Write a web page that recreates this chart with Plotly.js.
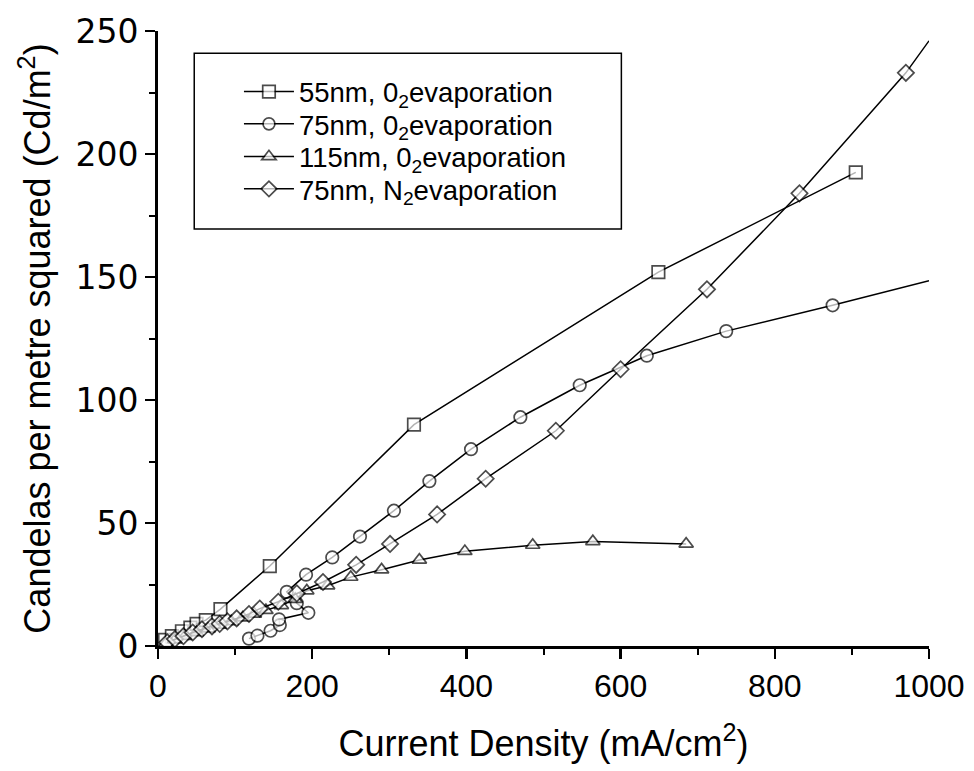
<!DOCTYPE html>
<html>
<head>
<meta charset="utf-8">
<script src="https://cdn.plot.ly/plotly-3.0.1.min.js"></script>
<style>html,body{margin:0;padding:0;background:#fff;}#chart{width:974px;height:771px;}</style>
</head>
<body>
<div id="chart"></div>
<script>
// Series names
const seriesNames = [
  "55nm, 0<sub>2</sub>evaporation",
  "75nm, 0<sub>2</sub>evaporation",
  "115nm, 0<sub>2</sub>evaporation",
  "75nm, N<sub>2</sub>evaporation"
];

// 55nm, O2 evaporation (squares)
const sqX = [9, 18, 31, 42, 50, 62, 81, 145, 332, 649, 905];
const sqY = [2.5, 4, 6, 7.5, 9, 10.5, 15, 32.5, 90, 152, 192.5];

// 75nm, O2 evaporation (circles)
const ciX = [118, 129, 146, 158, 157, 195, 180, 167, 192, 226, 262, 306, 352, 406, 470, 547, 634, 737, 875, 1000];
const ciY = [3, 4.2, 6.2, 8.5, 10.8, 13.5, 17.4, 22, 29, 36, 44.5, 55, 67, 80, 93, 106, 118, 128, 138.5, 148.5];

// 115nm, O2 evaporation (triangles)
const trX = [10, 22, 35, 50, 65, 80, 95, 110, 125, 140, 160, 178, 193, 220, 250, 290, 339, 398, 486, 564, 685];
const trY = [1, 2.5, 4, 5.5, 7, 8.5, 10, 11.5, 13, 14.5, 16.5, 19, 22.5, 24.5, 28, 31, 35, 38.5, 41, 42.5, 41.5];

// 75nm, N2 evaporation (diamonds)
const diX = [12, 22, 33, 45, 57, 70, 80, 90, 102, 118, 132, 156, 180, 214, 257, 301, 362, 425, 516, 600, 712, 832, 970, 1000];
const diY = [1.5, 2.8, 4, 5.5, 6.8, 8, 9, 10, 11.2, 13, 15.2, 18, 21.4, 26, 33, 41.5, 53.5, 68, 87.5, 112.5, 145, 184, 233, 246];

// Axis ticks
const xTicks = [0, 200, 400, 600, 800, 1000];
const yTicks = [0, 50, 100, 150, 200, 250];

function sizes(n, lastHidden) {
  const s = [];
  for (let i = 0; i < n; i++) s.push(lastHidden && i === n - 1 ? 0 : 12.5);
  return s;
}

const lineStyle = {color: "#000", width: 1.5};
function mk(sym, n, lastHidden) {
  return {symbol: sym, size: sizes(n, lastHidden), color: "#fff", line: {color: "#000", width: 1.7}};
}

const legendNames = ["legend", "legend2", "legend3", "legend4"];
const symbols = ["square", "circle", "triangle-up", "diamond"];
const xs = [sqX, ciX, trX, diX];
const ys = [sqY, ciY, trY, diY];
const hideLast = [false, true, false, true];

const traces = xs.map((x, i) => ({
  x: x, y: ys[i], name: seriesNames[i], mode: "lines+markers",
  line: lineStyle, marker: mk(symbols[i], x.length, hideLast[i]),
  legend: legendNames[i]
}));

const legendFont = {family: "Liberation Sans, Arial, sans-serif", size: 27.5, color: "#000"};
const legendRowY = [0.9013, 0.8488, 0.7956, 0.7431];
function legendDef(yy) {
  return {x: 0.105, y: yy, xanchor: "left", yanchor: "middle", bgcolor: "rgba(0,0,0,0)",
          borderwidth: 0, font: legendFont, itemwidth: 50};
}

const titleFont = {family: "Liberation Sans, Arial, sans-serif", size: 36, color: "#000"};

const layout = {
  width: 974, height: 771,
  margin: {l: 158, r: 45, t: 31, b: 125},
  paper_bgcolor: "#fff", plot_bgcolor: "#fff",
  showlegend: true,
  legend: legendDef(legendRowY[0]),
  legend2: legendDef(legendRowY[1]),
  legend3: legendDef(legendRowY[2]),
  legend4: legendDef(legendRowY[3]),
  xaxis: {
    range: [0, 1000], tickvals: xTicks, ticktext: xTicks.map(String),
    showgrid: false, zeroline: false, showline: true, linecolor: "#000", linewidth: 3,
    ticks: "outside", ticklen: 10, tickwidth: 2.5, tickcolor: "#000",
    minor: {dtick: 100, ticks: "outside", ticklen: 6, tickwidth: 2, tickcolor: "#000"},
    tickfont: {family: "Liberation Sans, Arial, sans-serif", size: 32, color: "#000"},
    title: {text: "Current Density (mA/cm<sup>2</sup>)", font: titleFont, standoff: 28},
    fixedrange: true
  },
  yaxis: {
    range: [0, 250], tickvals: yTicks, ticktext: yTicks.map(String),
    showgrid: false, zeroline: false, showline: true, linecolor: "#000", linewidth: 3,
    ticks: "outside", ticklen: 10, tickwidth: 2.5, tickcolor: "#000",
    minor: {dtick: 25, ticks: "outside", ticklen: 6, tickwidth: 2, tickcolor: "#000"},
    tickfont: {family: "DejaVu Sans, sans-serif", size: 33, color: "#000"},
    title: {text: "Candelas per metre squared (Cd/m<sup>2</sup>)", font: titleFont, standoff: 14},
    fixedrange: true
  },
  shapes: [
    {type: "rect", xref: "paper", yref: "paper", x0: 0.047, x1: 0.601, y0: 0.678, y1: 0.964,
     line: {color: "#000", width: 1.5}, fillcolor: "rgba(0,0,0,0)"}
  ]
};

Plotly.newPlot("chart", traces, layout, {staticPlot: true, displayModeBar: false});
</script>
</body>
</html>
